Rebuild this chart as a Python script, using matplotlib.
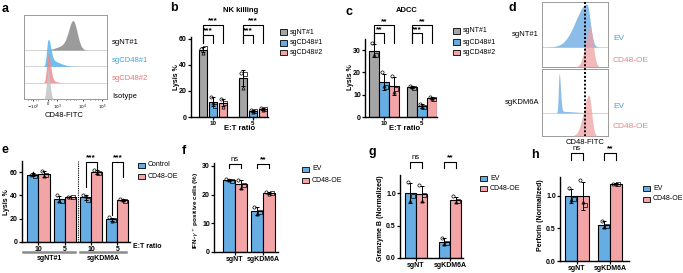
import numpy as np
import matplotlib.pyplot as plt
from matplotlib.patches import Rectangle
from matplotlib.lines import Line2D

plt.rcParams['font.family'] = ['Liberation Sans', 'DejaVu Sans']

# ---------------- data ----------------
# a: flow histograms, components (peak, left spread, right spread, height)
a_labels = ['sgNT#1', 'sgCD48#1', 'sgCD48#2', 'Isotype']
a_sgnt = [(0.59, 0.055, 0.05, 1.8), (0.46, 0.08, 0.05, 0.22)]
a_cd48_1 = [(0.29, 0.018, 0.03, 1.5), (0.33, 0.03, 0.1, 0.35)]
a_cd48_2 = [(0.29, 0.018, 0.028, 1.75), (0.32, 0.02, 0.06, 0.12)]
a_iso = [(0.29, 0.018, 0.022, 1.78)]
a_tick_pos = [0.11, 0.29, 0.40, 0.71, 0.94]
a_tick_lab = [r'$-10^3$', '0', r'$10^3$', r'$10^4$', r'$10^5$']

# b: NK killing, replicates per E:T ratio
et_ratio = ['10', '5']
b_groups = ['sgNT#1', 'sgCD48#1', 'sgCD48#2']
nk_sgnt = [[52.5, 49.5, 53.0], [34.0, 22.5, 33.0]]
nk_cd48_1 = [[15.5, 11.0, 8.5], [5.2, 4.0, 4.3]]
nk_cd48_2 = [[13.5, 8.0, 11.0], [6.6, 5.5, 6.5]]

# c: ADCC
adcc_sgnt = [[33.0, 28.0, 28.0], [14.0, 13.6, 13.0]]
adcc_cd48_1 = [[20.0, 14.0, 13.5], [5.8, 4.5, 4.3]]
adcc_cd48_2 = [[18.5, 11.0, 12.5], [8.9, 8.0, 8.2]]

# d: CD48 flow, EV vs CD48-OE
d_rows = ['sgNT#1', 'sgKDM6A']
d_nt_ev = [(0.68, 0.17, 0.05, 2.15)]
d_nt_oe = [(0.73, 0.07, 0.045, 2.0)]
d_kd_ev = [(0.26, 0.012, 0.02, 1.7), (0.30, 0.02, 0.2, 0.07)]
d_kd_oe = [(0.71, 0.08, 0.04, 1.78)]

# e: lysis with CD48 overexpression
e_ticks = ['10', '5', '10', '5']
e_control = [[58.0, 59.0, 57.0], [40.0, 35.0, 35.5], [40.0, 39.5, 36.0], [21.0, 18.0, 19.0]]
e_cd48oe = [[61.0, 57.0, 57.5], [39.0, 38.5, 38.8], [62.0, 59.0, 59.0], [36.6, 36.0, 35.6]]

# f, g, h
fgh_ticks = ['sgNT', 'sgKDM6A']
ifng_ev = [[25.6, 25.0, 24.9], [15.8, 13.2, 13.8]]
ifng_oe = [[25.2, 22.2, 23.4], [21.0, 20.3, 20.6]]
gzmb_ev = [[1.17, 0.87, 0.96], [0.31, 0.22, 0.23]]
gzmb_oe = [[1.12, 0.88, 0.97], [0.95, 0.86, 0.87]]
prf_ev = [[1.12, 0.93, 0.95], [0.62, 0.52, 0.54]]
prf_oe = [[1.25, 0.90, 0.86], [1.19, 1.18, 1.19]]

GRAY = '#a5a5a5'
BLUE = '#66ade3'
PINK = '#f3a4a7'

W, H = 683, 273
fig = plt.figure(figsize=(W / 100, H / 100), dpi=100)


def px_ax(l, t, r, b):
    return fig.add_axes([l / W, 1 - b / H, (r - l) / W, (b - t) / H])


def ftext(x, y, s, **kw):
    fig.text(x / W, 1 - y / H, s, **kw)


def fline(xs, ys, **kw):
    fig.add_artist(Line2D([x / W for x in xs], [1 - y / H for y in ys], transform=fig.transFigure, **kw))


def curve(x, comps):
    y = np.zeros_like(x)
    for mu, sl, sr, h in comps:
        s = np.where(x < mu, sl, sr)
        y += h * np.exp(-0.5 * ((x - mu) / s) ** 2)
    return y


def style(ax, yticks, ylabels=None):
    for s in ['top', 'right']:
        ax.spines[s].set_visible(False)
    for s in ['left', 'bottom']:
        ax.spines[s].set_linewidth(1.0)
    ax.tick_params(length=2, width=0.9, labelsize=5, pad=1)
    ax.set_yticks(yticks)
    ax.set_yticklabels(ylabels if ylabels else [str(t) for t in yticks], fontweight='bold')


def bars(ax, xs, reps, color, width):
    reps = np.array(reps)
    means = reps.mean(axis=1)
    sds = reps.std(axis=1, ddof=1)
    ax.bar(xs, means, width, color=color, edgecolor='black', linewidth=0.8, zorder=2)
    ax.errorbar(xs, means, yerr=sds, fmt='none', ecolor='black', elinewidth=0.7,
                capsize=1.5, capthick=0.7, zorder=3, clip_on=False)
    for x, vals in zip(xs, reps):
        for k, (v, m) in enumerate(zip(vals, ['o', '^', 's'])):
            ax.plot(x + (k - 1) * width * 0.22, v, marker=m, ms=2.3, mfc='none',
                    mec='black', mew=0.5, zorder=4, clip_on=False)


def bracket(ax, x1, x2, ytop, ylow1, ylow2, text, size=6, weight='bold'):
    ax.plot([x1, x1, x2, x2], [ylow1, ytop, ytop, ylow2], color='black', lw=0.8, clip_on=False)
    ax.annotate(text, (0.5 * (x1 + x2), ytop), xytext=(0, 0.3), textcoords='offset points',
                ha='center', va='bottom', fontsize=size, fontweight=weight, annotation_clip=False)


def legend_px(x, ys, labels, colors, size=5):
    for y, lab, c in zip(ys, labels, colors):
        fig.add_artist(Rectangle((x / W, 1 - (y + 2.5) / H), 7 / W, 5 / H, transform=fig.transFigure,
                                 facecolor=c, edgecolor='black', lw=0.6))
        ftext(x + 10, y, lab, fontsize=size, va='center')


# ---------------- a ----------------
ax = px_ax(24, 15, 107, 99)
x = np.linspace(0, 1, 400)
a_cols = ['#8a8a8a', '#57b5ea', '#eb8d90', '#c4c4c4']
for base in [1, 2, 3]:
    ax.axhline(base, color='#cfcfcf', lw=0.6, zorder=1)
for i, (comps, col) in enumerate(zip([a_sgnt, a_cd48_1, a_cd48_2, a_iso], a_cols)):
    base = 3 - i
    y = curve(x, comps)
    ax.fill_between(x, base, base + y, where=y > 0.003, color=col, alpha=0.85, lw=0, zorder=2 + i)
ax.set_xlim(0, 1)
ax.set_ylim(0, 5.15)
ax.set_yticks([])
ax.set_xticks(a_tick_pos)
ax.set_xticklabels(a_tick_lab, fontsize=3)
ax.set_xticks([0.05, 0.08, 0.14, 0.17, 0.33, 0.36, 0.5, 0.56, 0.6, 0.63, 0.8, 0.86, 0.89], minor=True)
ax.tick_params(length=1.5, width=0.5, pad=1)
ax.tick_params(which='minor', length=0.8, width=0.4)
for s in ax.spines.values():
    s.set_color('#9a9a9a')
    s.set_linewidth(0.7)
ftext(64, 115, 'CD48-FITC', fontsize=5.5, ha='center', va='center')
for lab, yy, c in zip(a_labels, [43, 61, 78, 96], ['black', '#3aa6dd', '#e8736f', 'black']):
    ftext(112, yy, lab, fontsize=5.5, color=c, va='center')

# ---------------- b ----------------
ax = px_ax(191, 37, 268, 117)
pos = np.arange(len(et_ratio))
for k, (reps, col) in enumerate(zip([nk_sgnt, nk_cd48_1, nk_cd48_2], [GRAY, BLUE, PINK])):
    bars(ax, pos + (k - 1) * 0.25, reps, col, 0.2)
ax.set_xlim(-0.55, 1.375)
ax.set_ylim(0, 61.5)
style(ax, [0, 20, 40, 60])
ax.set_xticks(pos)
ax.set_xticklabels(et_ratio, fontweight='bold', fontsize=4.5)
for p in pos:
    bracket(ax, p - 0.25, p + 0.25, 70.8, 56.9, 56.9, '***')
    bracket(ax, p - 0.25, p, 63.1, 56.9, 56.9, '***')
ftext(241, 10, 'NK killing', fontsize=5.5, fontweight='bold', ha='center', va='center')
ftext(240, 128.5, 'E:T ratio', fontsize=5.5, fontweight='bold', ha='center', va='center')
ftext(176, 77, 'Lysis %', fontsize=5, fontweight='bold', rotation=90, ha='center', va='center')
legend_px(280, [32, 43, 53], b_groups, [GRAY, BLUE, PINK])

# ---------------- c ----------------
ax = px_ax(365, 39, 437, 117)
for k, (reps, col) in enumerate(zip([adcc_sgnt, adcc_cd48_1, adcc_cd48_2], [GRAY, BLUE, PINK])):
    bars(ax, pos + (k - 1) * 0.263, reps, col, 0.24)
ax.set_xlim(-0.5, 1.395)
ax.set_ylim(0, 35)
style(ax, [0, 10, 20, 30])
ax.set_xticks(pos)
ax.set_xticklabels(et_ratio, fontweight='bold', fontsize=4.5)
bracket(ax, -0.263, 0.263, 41.2, 33.1, 33.1, '**')
bracket(ax, -0.263, 0, 37.6, 33.1, 33.1, '**')
bracket(ax, 1 - 0.263, 1.263, 41.2, 33.1, 33.1, '**')
bracket(ax, 1 - 0.263, 1, 37.6, 33.1, 33.1, '***')
ftext(407, 10, 'ADCC', fontsize=5.5, fontweight='bold', ha='center', va='center')
ftext(405, 128.5, 'E:T ratio', fontsize=5.5, fontweight='bold', ha='center', va='center')
ftext(350, 77, 'Lysis %', fontsize=5, fontweight='bold', rotation=90, ha='center', va='center')
legend_px(453, [31, 42, 53], b_groups, [GRAY, BLUE, PINK])

# ---------------- d ----------------
for (t, b, ev, oe, top, lab) in [(2, 67, d_nt_ev, d_nt_oe, 3.25, d_rows[0]),
                                 (69, 136, d_kd_ev, d_kd_oe, 2.91, d_rows[1])]:
    ax = px_ax(542, t, 608, b)
    ax.axhline(1, color='#cfcfcf', lw=0.6, zorder=1)
    y_ev = curve(x, ev)
    y_oe = curve(x, oe)
    ax.fill_between(x, 1, 1 + y_ev, where=y_ev > 0.003, color='#7fb6e6', alpha=0.9, lw=0, zorder=2)
    ax.fill_between(x, 0, y_oe, where=y_oe > 0.003, color='#f0a0a2', alpha=0.75, lw=0, zorder=3)
    ax.set_xlim(0, 1)
    ax.set_ylim(0, top)
    ax.set_xticks([])
    ax.set_yticks([])
    for s in ax.spines.values():
        s.set_color('#9a9a9a')
        s.set_linewidth(0.7)
    ftext(539, (t + b) / 2, lab, fontsize=5.5, ha='right', va='center')
for yy, lab, c in [(39, 'EV', '#4aa3df'), (60, 'CD48-OE', '#e98585'),
                   (107, 'EV', '#4aa3df'), (127, 'CD48-OE', '#e98585')]:
    ftext(613, yy, lab, fontsize=6, color=c, va='center')
fline([585, 585], [2, 136], color='black', lw=1.4, ls=(0, (1, 1)))
ftext(585, 143, 'CD48-FITC', fontsize=5.5, ha='center', va='center')

# ---------------- e ----------------
ax = px_ax(22, 160.7, 130, 241.7)
pos4 = np.arange(len(e_ticks))
bars(ax, pos4 - 0.21, e_control, BLUE, 0.42)
bars(ax, pos4 + 0.21, e_cd48oe, PINK, 0.42)
ax.set_xlim(-0.627, 3.479)
ax.set_ylim(0, 70)
style(ax, [0, 20, 40, 60])
ax.set_xticks(pos4)
ax.set_xticklabels(e_ticks, fontweight='bold')
ax.axvline(1.5, color='black', lw=0.8, ls=(0, (1, 1)))
bracket(ax, 2 - 0.21, 2 + 0.21, 69, 47.3, 61, '***')
bracket(ax, 3 - 0.21, 3 + 0.21, 69, 23, 56, '***')
ftext(133, 247, 'E:T ratio', fontsize=5, fontweight='bold', va='center')
fline([23, 75], [252, 252], color='#8a8a8a', lw=1.8)
fline([80, 126], [252, 252], color='#8a8a8a', lw=1.8)
ftext(49, 259, 'sgNT#1', fontsize=5, fontweight='bold', ha='center', va='center')
ftext(103, 259, 'sgKDM6A', fontsize=5, fontweight='bold', ha='center', va='center')
ftext(6, 202, 'Lysis %', fontsize=5, fontweight='bold', rotation=90, ha='center', va='center')
legend_px(138, [165, 176], ['Control', 'CD48-OE'], [BLUE, PINK])

# ---------------- f ----------------
pos2 = np.arange(len(fgh_ticks))
ax = px_ax(214, 163, 278, 252)
bars(ax, pos2 - 0.215, ifng_ev, BLUE, 0.43)
bars(ax, pos2 + 0.215, ifng_oe, PINK, 0.43)
ax.set_xlim(-0.75, 1.536)
ax.set_ylim(0, 31)
style(ax, [0, 10, 20, 30])
ax.set_xticks(pos2)
ax.set_xticklabels(fgh_ticks, fontweight='bold')
bracket(ax, -0.215, 0.215, 30.7, 29.3, 29.3, 'ns', size=5.5, weight='normal')
bracket(ax, 1 - 0.215, 1.215, 30.7, 29.3, 29.3, '**')
ftext(196, 210, r'IFN-$\gamma^+$ positive cells (%)', fontsize=4.6, fontweight='bold',
      rotation=90, ha='center', va='center')
legend_px(302, [169, 180], ['EV', 'CD48-OE'], [BLUE, PINK])

# ---------------- g ----------------
ax = px_ax(400, 175, 463, 258)
bars(ax, pos2 - 0.165, gzmb_ev, BLUE, 0.32)
bars(ax, pos2 + 0.165, gzmb_oe, PINK, 0.32)
ax.set_xlim(-0.47, 1.38)
ax.set_ylim(0, 1.277)
style(ax, [0, 0.5, 1.0], ['0.0', '0.5', '1.0'])
ax.set_xticks(pos2)
ax.set_xticklabels(fgh_ticks, fontweight='bold')
bracket(ax, -0.165, 0.165, 1.48, 1.38, 1.38, 'ns', size=5.5, weight='normal')
bracket(ax, 1 - 0.165, 1.165, 1.48, 1.38, 1.38, '**')
ftext(380, 218, 'Granzyme B (Normalized)', fontsize=5, fontweight='bold',
      rotation=90, ha='center', va='center')
legend_px(480, [178, 188], ['EV', 'CD48-OE'], [BLUE, PINK])

# ---------------- h ----------------
ax = px_ax(560, 177, 629, 261)
bars(ax, pos2 - 0.175, prf_ev, BLUE, 0.35)
bars(ax, pos2 + 0.175, prf_oe, PINK, 0.35)
ax.set_xlim(-0.515, 1.576)
ax.set_ylim(0, 1.29)
style(ax, [0, 0.5, 1.0], ['0.0', '0.5', '1.0'])
ax.set_xticks(pos2)
ax.set_xticklabels(fgh_ticks, fontweight='bold')
bracket(ax, -0.175, 0.175, 1.66, 1.55, 1.55, 'ns', size=5.5, weight='normal')
bracket(ax, 1 - 0.175, 1.175, 1.66, 1.55, 1.55, '**')
ftext(541, 215, 'Perforin (Normalized)', fontsize=5, fontweight='bold',
      rotation=90, ha='center', va='center')
legend_px(643, [188, 199], ['EV', 'CD48-OE'], [BLUE, PINK])

# panel letters
for lab, xx, yy in [('a', 5, 9), ('b', 174, 8), ('c', 349, 12), ('d', 512, 8),
                    ('e', 5, 150), ('f', 184, 151), ('g', 372, 152), ('h', 535, 155)]:
    ftext(xx, yy, lab, fontsize=9, fontweight='bold', ha='center', va='center')

fig.savefig('out.png', dpi=100)
